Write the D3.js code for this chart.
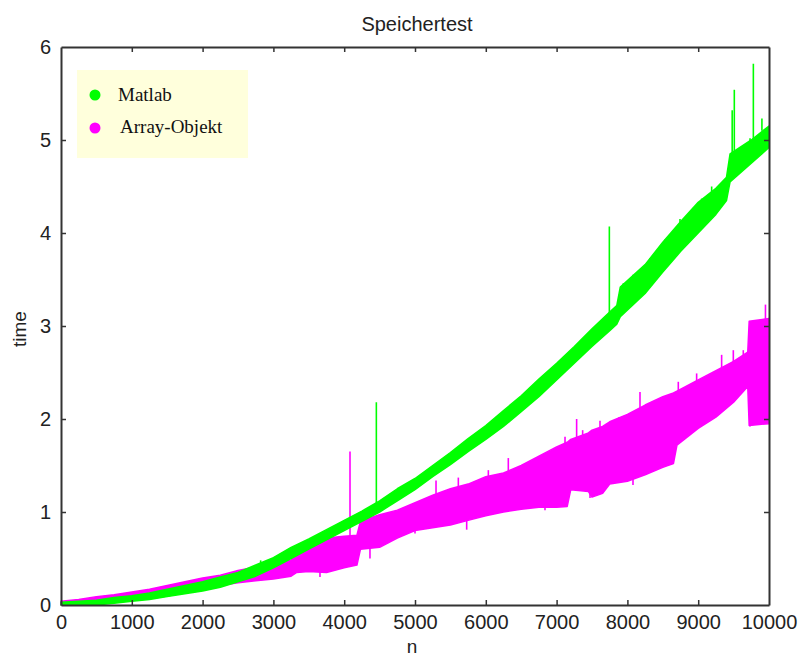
<!DOCTYPE html>
<html>
<head>
<meta charset="utf-8">
<script src="https://cdn.jsdelivr.net/npm/d3@7"></script>
<style>
  html, body { margin: 0; padding: 0; background: #fff; }
  svg { display: block; }
</style>
</head>
<body>
<svg id="chart" width="798" height="657"></svg>
<script>
// Speichertest: runtime over problem size n for two storage strategies.
// Each series is kept as a sampled envelope (lower / upper time at n)
// plus isolated outlier strokes.

const seriesNames = ["Matlab", "Array-Objekt"];
const seriesColors = ["#00ff00", "#ff00ff"];

const xTicks = [0, 1000, 2000, 3000, 4000, 5000, 6000, 7000, 8000, 9000, 10000];
const yTicks = [0, 1, 2, 3, 4, 5, 6];

// Matlab envelope
const matlabN    = [0, 250, 500, 750, 1000, 1250, 1500, 1750, 2000, 2250, 2500, 2750, 3000, 3250, 3500, 3750, 4000, 4250, 4500, 4750, 5000, 5250, 5500, 5750, 6000, 6250, 6500, 6750, 7000, 7250, 7500, 7750, 7850, 7900, 8250, 8500, 8750, 9000, 9250, 9400, 9450, 9750, 10000];
const matlabLow  = [0.00, 0.00, 0.00, 0.02, 0.04, 0.06, 0.09, 0.12, 0.15, 0.19, 0.25, 0.31, 0.40, 0.50, 0.60, 0.70, 0.80, 0.90, 1.00, 1.12, 1.24, 1.38, 1.51, 1.65, 1.78, 1.92, 2.08, 2.24, 2.42, 2.60, 2.78, 2.95, 3.02, 3.10, 3.35, 3.58, 3.80, 4.00, 4.20, 4.35, 4.55, 4.75, 4.92];
const matlabHigh = [0.03, 0.04, 0.05, 0.08, 0.10, 0.13, 0.17, 0.21, 0.25, 0.30, 0.35, 0.43, 0.51, 0.62, 0.71, 0.81, 0.91, 1.01, 1.12, 1.25, 1.36, 1.50, 1.64, 1.79, 1.93, 2.09, 2.25, 2.43, 2.60, 2.78, 2.97, 3.15, 3.22, 3.42, 3.66, 3.90, 4.12, 4.33, 4.48, 4.60, 4.85, 5.00, 5.15];
// Matlab outliers: [n, from, to]
const matlabSpikes = [[2820, 0.42, 0.48], [4454, 1.08, 2.18], [7745, 3.05, 4.07], [7943, 3.30, 3.46], [8080, 3.40, 3.55], [8320, 3.60, 3.73], [8531, 3.80, 3.93], [8743, 4.00, 4.15], [8884, 4.10, 4.22], [9049, 4.25, 4.37], [9190, 4.40, 4.50], [9480, 4.80, 5.32], [9510, 4.80, 5.54], [9732, 4.90, 5.02], [9779, 4.95, 5.82], [9900, 5.10, 5.23]];

// Array-Objekt envelope
const arrayN    = [0, 250, 500, 750, 1000, 1250, 1500, 1750, 2000, 2250, 2500, 2750, 3000, 3250, 3330, 3500, 3750, 4000, 4180, 4230, 4500, 4750, 5000, 5250, 5500, 5750, 6000, 6250, 6500, 6750, 7000, 7150, 7200, 7450, 7500, 7650, 7750, 8000, 8250, 8500, 8650, 8700, 9000, 9250, 9500, 9700, 9720, 10000];
const arrayLow  = [0.00, 0.01, 0.03, 0.05, 0.07, 0.09, 0.11, 0.15, 0.18, 0.21, 0.24, 0.26, 0.28, 0.31, 0.35, 0.36, 0.35, 0.40, 0.43, 0.60, 0.62, 0.72, 0.80, 0.83, 0.86, 0.91, 0.96, 1.00, 1.03, 1.05, 1.05, 1.06, 1.24, 1.22, 1.16, 1.20, 1.30, 1.33, 1.40, 1.48, 1.52, 1.72, 1.90, 2.02, 2.18, 2.35, 1.93, 1.95];
const arrayHigh = [0.04, 0.06, 0.09, 0.11, 0.14, 0.17, 0.21, 0.25, 0.29, 0.32, 0.37, 0.41, 0.45, 0.48, 0.59, 0.65, 0.72, 0.74, 0.75, 0.90, 0.97, 1.02, 1.10, 1.18, 1.25, 1.30, 1.38, 1.42, 1.50, 1.60, 1.70, 1.75, 1.78, 1.85, 1.88, 1.92, 1.97, 2.05, 2.15, 2.24, 2.28, 2.30, 2.42, 2.52, 2.62, 2.72, 3.05, 3.08];
// Array-Objekt outliers: [n, from, to]
const arraySpikes = [[4082, 0.70, 1.65], [5297, 1.10, 1.34], [5612, 1.20, 1.37], [6036, 1.30, 1.45], [6318, 1.35, 1.58], [6718, 1.45, 1.58], [7119, 1.60, 1.81], [7283, 1.70, 2.00], [7368, 1.75, 1.88], [7613, 1.85, 1.98], [7881, 1.90, 2.02], [8178, 2.00, 2.29], [8719, 2.20, 2.40], [8978, 2.30, 2.49], [9331, 2.45, 2.69], [9496, 2.55, 2.74], [9637, 2.60, 2.74], [9950, 3.00, 3.23],
  [3658, 0.40, 0.30], [4364, 0.62, 0.50], [5000, 0.85, 0.77], [5730, 0.95, 0.81], [6836, 1.10, 1.02], [7472, 1.25, 1.15], [8079, 1.38, 1.29], [9732, 2.10, 1.92]];

const svg = d3.select("#chart");
const margin = { left: 61, right: 29, top: 47, bottom: 52 };
const W = 798, H = 657;

const x = d3.scaleLinear().domain([0, 10000]).range([margin.left, W - margin.right]);
const y = d3.scaleLinear().domain([0, 6]).range([H - margin.bottom, margin.top]);

const font = "'Liberation Sans', Arial, sans-serif";
const axisColor = "#333";

// Series bands and outliers
const series = [
  { n: matlabN, low: matlabLow, high: matlabHigh, spikes: matlabSpikes, color: seriesColors[0] },
  { n: arrayN, low: arrayLow, high: arrayHigh, spikes: arraySpikes, color: seriesColors[1] }
];

const area = d3.area()
  .x(d => x(d.n))
  .y0(d => y(d.lo))
  .y1(d => y(d.hi));

const plot = svg.append("g");
// Array-Objekt first so the Matlab band lies on top
[series[1], series[0]].forEach(s => {
  const pts = s.n.map((n, i) => ({ n, lo: s.low[i], hi: s.high[i] }));
  plot.append("path")
    .datum(pts)
    .attr("d", area)
    .attr("fill", s.color)
    .attr("stroke", s.color)
    .attr("stroke-width", 1.5)
    .attr("stroke-linejoin", "round");
  plot.selectAll(null)
    .data(s.spikes)
    .enter().append("line")
    .attr("x1", d => x(d[0])).attr("x2", d => x(d[0]))
    .attr("y1", d => y(d[1])).attr("y2", d => y(d[2]))
    .attr("stroke", s.color)
    .attr("stroke-width", 1.6);
});

// Frame with inward ticks on all four sides
const tickLen = 5;
const axBottom = d3.axisBottom(x).tickValues(xTicks).tickSizeInner(-tickLen).tickSizeOuter(0).tickPadding(10).tickFormat(d3.format("d"));
const axTop = d3.axisTop(x).tickValues(xTicks).tickSizeInner(-tickLen).tickSizeOuter(0).tickFormat("");
const axLeft = d3.axisLeft(y).tickValues(yTicks).tickSizeInner(-tickLen).tickSizeOuter(0).tickPadding(10).tickFormat(d3.format("d"));
const axRight = d3.axisRight(y).tickValues(yTicks).tickSizeInner(-tickLen).tickSizeOuter(0).tickFormat("");

function style(g) {
  g.selectAll(".domain").attr("stroke", axisColor).attr("stroke-width", 2);
  g.selectAll(".tick line").attr("stroke", axisColor).attr("stroke-width", 1.5);
  g.selectAll(".tick text").attr("fill", "#222").style("font-family", font).style("font-size", "20px");
}

svg.append("g").attr("transform", `translate(0,${y(0)})`).call(axBottom).call(style);
svg.append("g").attr("transform", `translate(0,${y(6)})`).call(axTop).call(style);
svg.append("g").attr("transform", `translate(${x(0)},0)`).call(axLeft).call(style);
svg.append("g").attr("transform", `translate(${x(10000)},0)`).call(axRight).call(style);

// Hide ticks at the very ends (they coincide with the frame)
svg.selectAll(".tick line").filter(function () {
  const d = d3.select(this.parentNode).datum();
  return d === 0 || d === 10000 || d === 6;
}).attr("display", "none");

// Title and axis labels
svg.append("text")
  .attr("x", (x(0) + x(10000)) / 2 + 2).attr("y", 31)
  .attr("text-anchor", "middle")
  .style("font-family", font).style("font-size", "20px").attr("fill", "#222")
  .text("Speichertest");

svg.append("text")
  .attr("x", (x(0) + x(10000)) / 2 - 3).attr("y", 653)
  .attr("text-anchor", "middle")
  .style("font-family", font).style("font-size", "19px").attr("fill", "#222")
  .text("n");

svg.append("text")
  .attr("transform", `translate(26,${(y(0) + y(6)) / 2 + 3}) rotate(-90)`)
  .attr("text-anchor", "middle")
  .style("font-family", font).style("font-size", "19px").attr("fill", "#222")
  .text("time");

// Legend
const legend = svg.append("g");
legend.append("rect")
  .attr("x", 77).attr("y", 70).attr("width", 171).attr("height", 88)
  .attr("fill", "#ffffdc");
const legendRows = [{ cy: 95, ty: 101, tx: 118 }, { cy: 128, ty: 133, tx: 120 }];
seriesNames.forEach((name, i) => {
  legend.append("circle")
    .attr("cx", 95).attr("cy", legendRows[i].cy).attr("r", 5.5)
    .attr("fill", seriesColors[i]);
  legend.append("text")
    .attr("x", legendRows[i].tx).attr("y", legendRows[i].ty)
    .style("font-family", "'Liberation Serif', 'Times New Roman', serif")
    .style("font-size", "19px").attr("fill", "#111")
    .text(name);
});
</script>
</body>
</html>
